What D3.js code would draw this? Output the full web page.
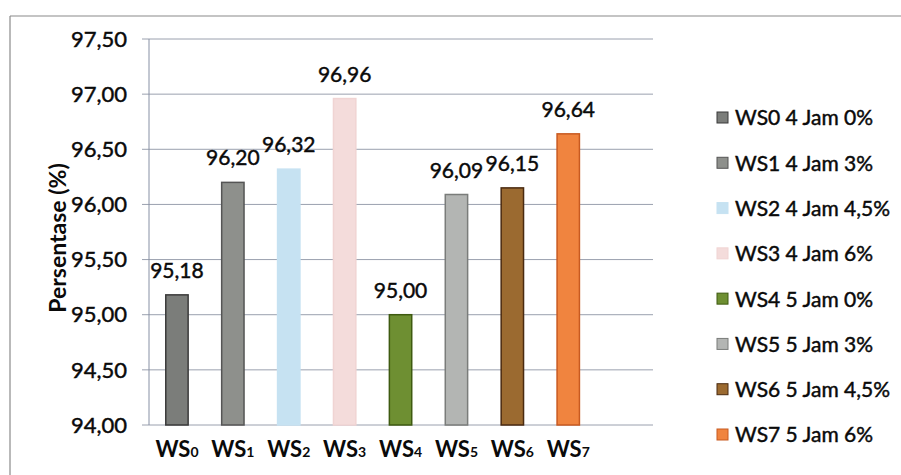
<!DOCTYPE html>
<html>
<head>
<meta charset="utf-8">
<script src="https://cdn.jsdelivr.net/npm/d3@7"></script>
<style>
  html, body { margin: 0; padding: 0; background: #fff; }
  svg { display: block; }
  text { font-family: Lato, "Open Sans", sans-serif; fill: #0a0a0a; }
  .medium { stroke: #0a0a0a; stroke-width: 0.45px; }
</style>
</head>
<body>
<svg id="chart" width="901" height="475"></svg>
<script>
// Sample codes (x axis)
const codes = ["WS0", "WS1", "WS2", "WS3", "WS4", "WS5", "WS6", "WS7"];
// Legend entries
const legendLabels = ["WS0 4 Jam 0%", "WS1 4 Jam 3%", "WS2 4 Jam 4,5%", "WS3 4 Jam 6%",
                      "WS4 5 Jam 0%", "WS5 5 Jam 3%", "WS6 5 Jam 4,5%", "WS7 5 Jam 6%"];
// Percentage values
const values = [95.18, 96.20, 96.32, 96.96, 95.00, 96.09, 96.15, 96.64];
// Bar fills and outlines
const fills   = ["#7b7d7a", "#8e908c", "#c6e2f2", "#f4dcdb", "#6e8f32", "#b3b5b3", "#9b6a30", "#f0843f"];
const strokes = ["#3a3a3a", "#555555", "#c6e2f2", "#f0d4d3", "#3e5a10", "#7a7c7a", "#4a2a10", "#c85a20"];
// Y axis ticks
const yTicks = [94.0, 94.5, 95.0, 95.5, 96.0, 96.5, 97.0, 97.5];

const fmt = v => v.toFixed(2).replace(".", ",");

const svg = d3.select("#chart");

// Frame
svg.append("line").attr("x1", 10).attr("x2", 10).attr("y1", 16).attr("y2", 475)
  .attr("stroke", "#8a8a8a").attr("stroke-width", 1.2);
svg.append("line").attr("x1", 10).attr("x2", 901).attr("y1", 16).attr("y2", 16)
  .attr("stroke", "#8a8a8a").attr("stroke-width", 1.2);

const plotLeft = 149, plotRight = 653, plotTop = 39, plotBottom = 425;
const step = 55.9;

const y = d3.scaleLinear().domain([94, 97.5]).range([plotBottom, plotTop]);
const x = d3.scaleBand().domain(codes)
  .range([plotLeft, plotLeft + step * codes.length])
  .paddingInner(0.6).paddingOuter(0.3);

// Gridlines
svg.append("g").selectAll("line").data(yTicks).join("line")
  .attr("x1", plotLeft - 7).attr("x2", plotRight)
  .attr("y1", d => y(d)).attr("y2", d => y(d))
  .attr("stroke", "#9aa0ae").attr("stroke-width", 1);

// Y axis line
svg.append("line").attr("x1", plotLeft).attr("x2", plotLeft)
  .attr("y1", plotTop).attr("y2", plotBottom)
  .attr("stroke", "#8790a4").attr("stroke-width", 1);

// Y tick labels
svg.append("g").selectAll("text").data(yTicks).join("text")
  .attr("class", "medium")
  .attr("x", 127).attr("y", d => y(d))
  .attr("dy", "0.35em")
  .attr("text-anchor", "end")
  .style("font-size", "22px")
  .text(fmt);

// Y axis title
svg.append("text")
  .attr("transform", "translate(66,238) rotate(-90)")
  .attr("text-anchor", "middle")
  .style("font-size", "23px")
  .style("font-weight", 700)
  .text("Persentase (%)");

// Bars
svg.append("g").selectAll("rect").data(values).join("rect")
  .attr("x", (d, i) => x(codes[i]))
  .attr("width", x.bandwidth())
  .attr("y", d => y(d))
  .attr("height", d => plotBottom - y(d))
  .attr("fill", (d, i) => fills[i])
  .attr("stroke", (d, i) => strokes[i])
  .attr("stroke-width", 1.5);

// Value labels
svg.append("g").selectAll("text").data(values).join("text")
  .attr("class", "medium")
  .attr("x", (d, i) => x(codes[i]) + x.bandwidth() / 2)
  .attr("y", d => y(d) - 17)
  .attr("text-anchor", "middle")
  .style("font-size", "21px")
  .text(fmt);

// X labels: "WS" with a small digit
const xl = svg.append("g").selectAll("text").data(codes).join("text")
  .attr("x", d => x(d) + x.bandwidth() / 2)
  .attr("y", 457)
  .attr("text-anchor", "middle")
  .style("font-weight", 700);
xl.append("tspan").style("font-size", "22px").text(d => d.slice(0, 2));
xl.append("tspan").style("font-size", "14px").text(d => d.slice(2));

// Legend
const legendY = d3.scalePoint().domain(legendLabels).range([118, 435]);
const lg = svg.append("g").selectAll("g").data(legendLabels).join("g")
  .attr("transform", d => `translate(717,${legendY(d)})`);
lg.append("rect")
  .attr("x", 0).attr("y", -6).attr("width", 11).attr("height", 11)
  .attr("fill", (d, i) => fills[i])
  .attr("stroke", (d, i) => strokes[i]).attr("stroke-width", 1);
lg.append("text")
  .attr("class", "medium")
  .attr("x", 18).attr("y", 0).attr("dy", "0.35em")
  .style("font-size", "21px")
  .text(d => d);
</script>
</body>
</html>
